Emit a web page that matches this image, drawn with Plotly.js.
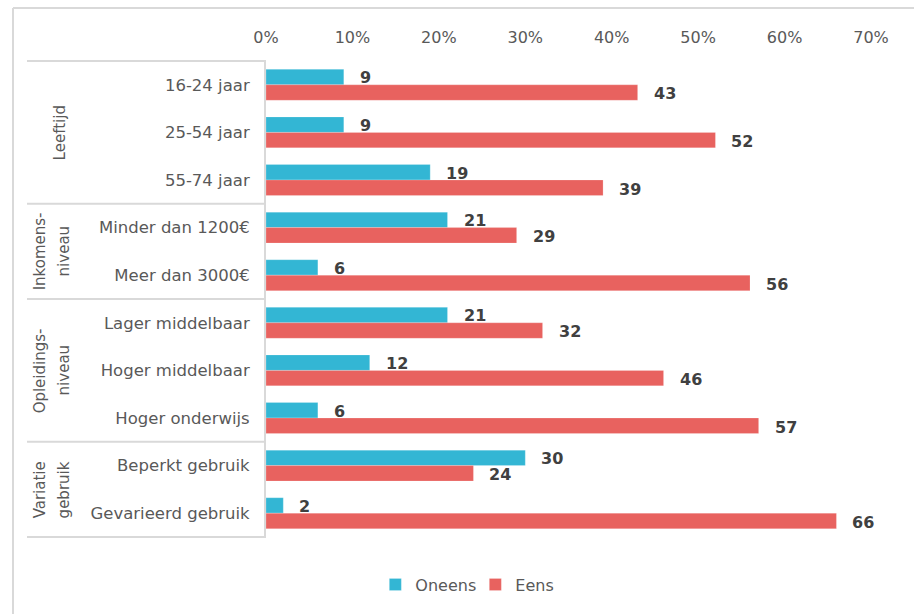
<!DOCTYPE html>
<html>
<head>
<meta charset="utf-8">
<script src="https://cdn.plot.ly/plotly-3.0.1.min.js"></script>
<style>html,body{margin:0;padding:0;background:#fff;}#chart{width:914px;height:614px;}</style>
</head>
<body>
<div id="chart"></div>
<script>
// ---- data ----
const categories = ["16-24 jaar", "25-54 jaar", "55-74 jaar", "Minder dan 1200€", "Meer dan 3000€",
  "Lager middelbaar", "Hoger middelbaar", "Hoger onderwijs", "Beperkt gebruik", "Gevarieerd gebruik"];
const oneens = [9, 9, 19, 21, 6, 21, 12, 6, 30, 2];
const eens = [43, 52, 39, 29, 56, 32, 46, 57, 24, 66];
const seriesNames = ["Oneens", "Eens"];
const groupLabels = [["Leeftijd"], ["Inkomens-", "niveau"], ["Opleidings-", "niveau"], ["Variatie", "gebruik"]];
const groupSizes = [3, 2, 3, 2];
const xTickVals = [0, 10, 20, 30, 40, 50, 60, 70];
const xTickText = ["0%", "10%", "20%", "30%", "40%", "50%", "60%", "70%"];

// ---- style ----
const BLUE = "#33b6d4";
const RED = "#e8625f";
const GRID = "#d9d9d9";
const FONT = "DejaVu Sans, Verdana, sans-serif";

const traces = [
  {type: "bar", orientation: "h", name: seriesNames[0], y: categories, x: oneens,
   marker: {color: BLUE, line: {color: "rgba(255,255,255,0.4)", width: 0.5}}, hoverinfo: "x+y"},
  {type: "bar", orientation: "h", name: seriesNames[1], y: categories, x: eens,
   marker: {color: RED, line: {color: "rgba(255,255,255,0.4)", width: 0.5}}, hoverinfo: "x+y"}
];

const annotations = [];
categories.forEach((c, i) => {
  annotations.push({x: oneens[i], y: c, xref: "x", yref: "y", text: String(oneens[i]), showarrow: false,
    xanchor: "left", yanchor: "middle", xshift: 14, yshift: 7, font: {family: FONT, size: 16, color: "#404040", weight: "bold"}});
  annotations.push({x: eens[i], y: c, xref: "x", yref: "y", text: String(eens[i]), showarrow: false,
    xanchor: "left", yanchor: "middle", xshift: 14, yshift: -9, font: {family: FONT, size: 16, color: "#404040", weight: "bold"}});
});

const shapes = [];
const n = categories.length;
// outer frame (top & left)
shapes.push({type: "line", xref: "paper", yref: "paper", x0: -0.4182, x1: 1.08, y0: 1.1113, y1: 1.1113, line: {color: GRID, width: 2}});
shapes.push({type: "line", xref: "paper", yref: "paper", x0: -0.4182, x1: -0.4182, y0: 1.1113, y1: -0.17, line: {color: GRID, width: 2}});
// group separators and group labels
let cum = 0;
shapes.push({type: "line", xref: "paper", yref: "paper", x0: -0.395, x1: 0, y0: 1, y1: 1, line: {color: GRID, width: 2}});
groupSizes.forEach((s, g) => {
  const top = 1 - cum / n;
  cum += s;
  const bot = 1 - cum / n;
  shapes.push({type: "line", xref: "paper", yref: "paper", x0: -0.395, x1: 0, y0: bot, y1: bot, line: {color: GRID, width: 2}});
  const lines = groupLabels[g];
  const centers = lines.length === 1 ? [-0.3405] : [-0.3736, -0.3339];
  lines.forEach((t, k) => {
    annotations.push({x: centers[k], y: (top + bot) / 2, xref: "paper", yref: "paper", text: t, showarrow: false,
      textangle: -90, xanchor: "center", yanchor: "middle", font: {family: FONT, size: 15, color: "#595959"}});
  });
});

const layout = {
  width: 914, height: 614,
  margin: {l: 266, r: 43, t: 61, b: 77},
  paper_bgcolor: "#ffffff", plot_bgcolor: "#ffffff",
  barmode: "group", bargap: 0.35, bargroupgap: 0,
  showlegend: true,
  legend: {orientation: "h", x: 0.346, xanchor: "center", y: -0.1, yanchor: "middle",
    itemwidth: 30, entrywidth: 55, entrywidthmode: "pixels",
    font: {family: FONT, size: 16, color: "#595959"}, traceorder: "normal"},
  xaxis: {side: "top", range: [0, 70], tickvals: xTickVals, ticktext: xTickText, showgrid: false, zeroline: false,
    showline: false, ticks: "", ticklabelstandoff: 14, tickfont: {family: FONT, size: 16, color: "#595959"}, fixedrange: true},
  yaxis: {type: "category", autorange: "reversed", showgrid: false, zeroline: false, showline: true, linecolor: GRID, linewidth: 2,
    ticks: "", ticklabelstandoff: 11, tickfont: {family: FONT, size: 16.5, color: "#595959"}, fixedrange: true},
  shapes: shapes,
  annotations: annotations
};

Plotly.newPlot("chart", traces, layout, {displayModeBar: false, responsive: false});
</script>
</body>
</html>
